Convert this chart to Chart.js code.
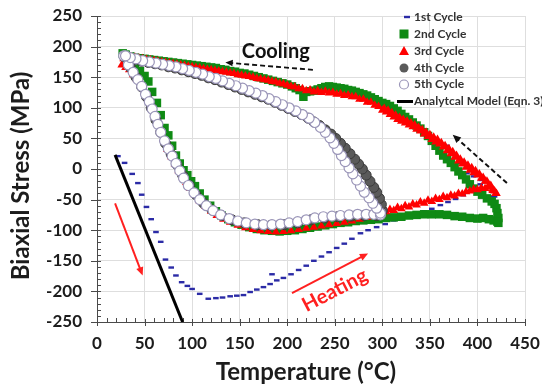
<!DOCTYPE html>
<html>
<head>
<meta charset="utf-8">
<script src="https://cdn.jsdelivr.net/npm/chart.js@4.4.1/dist/chart.umd.min.js"></script>
<style>
  html, body { margin: 0; padding: 0; background: #fff; }
</style>
</head>
<body>
<canvas id="chart" width="542" height="391"></canvas>
<script>
// ---- data: [temperature (°C), biaxial stress (MPa)] ----
const cycle1Heating = [[22,21],[29,10],[37,-8],[43,-23],[47,-42],[52,-62],[57,-82],[62,-103],[67,-119],[72,-148],
  [78,-161],[83,-174],[89,-185],[95,-191],[100,-196],[108,-204],[117,-212],[125,-211],[132,-210],[140,-208],
  [147,-207],[154,-206],[161,-201],[168,-197],[175,-193],[182,-188],[184,-172],[189,-182],[196,-178],[204,-172],
  [212,-165],[220,-158],[228,-150],[236,-143],[244,-136],[252,-129],[260,-122],[268,-114],[277,-105],[285,-100],
  [294,-95],[303,-90],[312,-84],[320,-80],[328,-76],[336,-73],[344,-69],[352,-65],[361,-59],[369,-54],
  [377,-49],[385,-43],[395,-34],[403,-25],[410,-30],[416,-45],[420,-67]];
const cycle1Cooling = [[418,-45],[412,-30],[404,-18],[396,-12],[389,-7],[380,10],[368,38],[356,48],[344,60],[330,76],
  [316,92],[300,100],[284,112],[268,118],[252,122],[236,127],[220,130],[204,136],[188,142],[172,147],
  [157,157],[140,156],[124,160],[108,164],[92,168],[76,172],[60,176],[44,180],[30,184]];

const cycle2Heating = [[30,186],[35,177],[40,168],[45,160],[50,152],[54,143],[58,126],[63,108],[67,88],[71,67],
  [75,55],[79,38],[83,22],[87,9],[91,-2],[95,-10],[99,-20],[103,-28],[108,-40],[113,-50],
  [119,-60],[125,-69],[131,-76],[138,-82],[145,-87],[152,-91],[160,-95],[168,-98],[176,-100],[184,-101],
  [192,-102],[200,-101],[208,-100],[216,-98],[224,-96],[232,-94],[240,-92],[248,-90],[256,-88],[264,-87],
  [272,-85],[280,-84],[288,-83],[296,-82],[304,-80],[312,-79],[320,-78],[328,-76],[336,-75],[344,-74],
  [352,-74],[360,-74],[368,-75],[376,-77],[384,-78],[392,-80],[400,-81],[406,-80],[412,-82],[417,-84],[421,-86]];
const cycle2Cooling = [[422,-88],[422,-80],[421,-72],[420,-64],[418,-57],[415,-53],[410,-48],[405,-42],[400,-37],[396,-32],
  [392,-25],[388,-17],[384,-10],[380,-4],[376,3],[372,10],[368,16],[364,22],[360,30],[356,38],
  [352,46],[348,54],[344,60],[340,66],[336,71],[332,76],[328,81],[324,85],[320,90],[316,95],
  [312,99],[308,103],[304,106],[300,108],[296,111],[292,114],[288,117],[284,120],[280,122],[276,124],
  [272,126],[268,128],[264,129],[260,131],[256,132],[252,133],[248,134],[244,135],[240,134],[236,132],
  [232,130],[228,128],[224,127],[220,126],[217,118],[213,129],[209,132],[205,135],[200,138],[195,140],
  [190,142],[185,144],[180,146],[175,148],[170,150],[165,152],[160,154],[155,156],[150,157],[145,159],
  [140,160],[135,162],[130,163],[125,165],[120,166],[115,167],[110,168],[105,169],[100,170],[95,171],
  [90,172],[85,173],[80,174],[75,175],[70,176],[65,177],[60,178],[55,179],[50,180],[45,181],
  [40,182],[35,184],[30,187],[27,189]];

const cycle3Heating = [[26,170],[30,166],[34,162],[38,154],[42,147],[46,139],[50,127],[54,115],[58,100],[62,84],
  [66,65],[70,49],[74,32],[78,20],[82,8],[86,-3],[90,-13],[94,-22],[98,-32],[103,-42],
  [108,-52],[114,-61],[120,-69],[126,-76],[133,-82],[140,-87],[148,-92],[156,-96],[164,-99],[172,-101],
  [180,-102],[188,-103],[196,-102],[204,-101],[212,-99],[220,-97],[228,-95],[236,-93],[244,-91],[252,-89],
  [260,-87],[268,-85],[276,-82],[284,-79],[292,-76],[300,-73],[304,-70],[308,-66],[312,-68],[316,-63],
  [320,-65],[324,-60],[328,-62],[332,-57],[336,-59],[340,-54],[344,-56],[348,-51],[352,-53],[356,-48],
  [360,-50],[364,-45],[368,-47],[372,-43],[376,-44],[380,-40],[384,-41],[388,-37],[392,-36],[396,-33],
  [400,-34],[404,-31],[408,-32],[412,-30],[416,-35],[419,-40]];
const cycle3Cooling = [[420,-40],[418,-36],[416,-33],[414,-27],[412,-26],[410,-20],[408,-20],[406,-14],[404,-15],[402,-8],
  [400,-10],[398,-3],[396,-6],[394,2],[392,-2],[390,6],[388,3],[386,11],[384,8],[382,16],
  [380,13],[378,22],[376,19],[374,28],[372,25],[370,33],[368,30],[366,38],[364,36],[362,43],
  [360,41],[358,48],[356,44],[354,52],[352,48],[350,56],[348,53],[346,60],[344,57],[342,64],
  [340,62],[338,68],[336,65],[334,72],[332,69],[330,75],[328,72],[326,78],[324,75],[322,81],
  [320,78],[318,84],[316,81],[314,88],[312,85],[310,92],[308,89],[306,96],[304,93],[302,99],
  [300,96],[296,102],[292,104],[288,109],[284,109],[280,114],[276,114],[272,118],[268,118],[264,121],
  [260,120],[256,123],[252,122],[248,125],[244,124],[240,127],[236,125],[232,128],[228,126],[224,129],
  [220,128],[216,131],[212,131],[208,134],[204,135],[200,137],[196,139],[192,140],[188,142],[184,143],
  [180,145],[176,146],[172,147],[168,148],[164,150],[160,151],[156,152],[152,153],[148,154],[144,156],
  [140,157],[136,158],[132,159],[128,160],[124,161],[120,162],[116,163],[112,164],[108,165],[104,166],
  [100,167],[96,168],[92,169],[88,170],[84,171],[80,172],[76,173],[72,174],[68,175],[64,176],
  [60,177],[56,178],[52,179],[48,180],[44,181],[40,182],[36,183],[32,183],[28,180]];

const cycle4Heating = [[29,183],[35,166],[41,150],[47,134],[52,118],[57,100],[62,80],[67,60],[72,42],[78,24],
  [84,7],[90,-10],[97,-27],[104,-42],[112,-56],[121,-67],[131,-76],[142,-83],[155,-88],[169,-91],
  [183,-92],[197,-91],[211,-88],[225,-83],[239,-80],[253,-78],[267,-77],[281,-76],[294,-76]];
const cycle4Cooling = [[300,-68],[299,-58],[297,-48],[294,-38],[291,-30],[287,-20],[283,-10],[279,0],[275,8],[271,16],
  [266,25],[261,34],[256,42],[251,50],[246,57],[240,64],[234,71],[228,77],[222,83],[215,89],
  [208,94],[201,99],[194,104],[187,109],[180,114],[173,118],[166,122],[159,126],[152,130],[145,134],
  [138,138],[131,142],[124,146],[117,149],[110,153],[103,156],[96,159],[89,162],[82,165],[75,167],
  [68,170],[61,172],[54,174],[47,176],[40,179],[34,181],[30,183]];

const cycle5Heating = [[28,185],[33,170],[38,158],[43,146],[47,135],[51,122],[55,110],[58,98],[61,86],[64,73],
  [67,60],[71,46],[75,33],[79,21],[83,9],[87,-3],[91,-15],[96,-27],[102,-39],[108,-50],
  [115,-60],[122,-68],[130,-75],[139,-81],[148,-85],[157,-88],[166,-90],[175,-91],[184,-91],[193,-90],
  [202,-88],[211,-86],[220,-83],[229,-80],[238,-78],[247,-77],[256,-76],[265,-75],[274,-74],[283,-74],
  [291,-74],[298,-75]];
const cycle5Cooling = [[298,-72],[294,-64],[290,-56],[286,-47],[281,-38],[277,-28],[273,-18],[269,-8],[265,2],[261,12],
  [257,22],[253,32],[249,42],[245,51],[240,60],[235,68],[229,76],[223,83],[216,89],[209,95],
  [202,100],[195,105],[188,110],[181,115],[174,120],[167,124],[160,128],[153,132],[146,136],[139,140],
  [132,144],[125,148],[118,151],[111,155],[104,158],[97,161],[90,164],[83,167],[76,169],[69,171],
  [62,173],[55,175],[48,177],[41,180],[35,182],[30,185]];

const modelLine = [[19,23],[90,-250]];

const seriesNames = ['1st Cycle', '2nd Cycle', '3rd Cycle', '4th Cycle', '5th Cycle', 'Analytcal Model (Eqn. 3)'];
const xTicksRange = [0, 450, 50];
const yTicksRange = [-250, 250, 50];

// ---- helpers ----
const FONT = 'Lato, "Open Sans", sans-serif';
const toXY = (pairs) => pairs.map(([x, y]) => ({ x, y }));

const COLORS = {
  c1: '#2b2ba6',
  c2: '#0f8a14',
  c3: '#ff0000',
  c4fill: '#5a5a5a',
  c4line: '#3c3c3c',
  c5line: '#9a95b8',
  grid: '#dedede',
  axis: '#4a4a4a',
  text: '#1c1c1c',
};

function drawArrow(ctx, x1, y1, x2, y2, color, width, dash, head) {
  const ang = Math.atan2(y2 - y1, x2 - x1);
  ctx.save();
  ctx.strokeStyle = color;
  ctx.fillStyle = color;
  ctx.lineWidth = width;
  ctx.setLineDash(dash);
  ctx.beginPath();
  ctx.moveTo(x1, y1);
  ctx.lineTo(x2 - Math.cos(ang) * head * 0.7, y2 - Math.sin(ang) * head * 0.7);
  ctx.stroke();
  ctx.setLineDash([]);
  ctx.beginPath();
  ctx.moveTo(x2, y2);
  ctx.lineTo(x2 - head * Math.cos(ang - 0.42), y2 - head * Math.sin(ang - 0.42));
  ctx.lineTo(x2 - head * Math.cos(ang + 0.42), y2 - head * Math.sin(ang + 0.42));
  ctx.closePath();
  ctx.fill();
  ctx.restore();
}

// minor / major tick marks on the two axes
const axisTicks = {
  id: 'axisTicks',
  beforeDatasetsDraw(chart) {
    const { ctx, chartArea: a, scales: { x, y } } = chart;
    ctx.save();
    ctx.strokeStyle = COLORS.axis;
    ctx.lineWidth = 1;
    ctx.beginPath();
    for (let v = xTicksRange[0]; v <= xTicksRange[1]; v += 10) {
      const px = Math.round(x.getPixelForValue(v)) + 0.5;
      const major = v % 50 === 0;
      ctx.moveTo(px, a.bottom + (major ? 4 : 0));
      ctx.lineTo(px, a.bottom - (major ? 3 : 4));
    }
    for (let v = yTicksRange[0]; v <= yTicksRange[1]; v += 10) {
      const py = Math.round(y.getPixelForValue(v)) + 0.5;
      const major = v % 50 === 0;
      ctx.moveTo(a.left - (major ? 6 : 0), py);
      ctx.lineTo(a.left + 4, py);
    }
    ctx.stroke();
    ctx.restore();
  },
};

// axis titles, in-plot annotations and the legend
const decorations = {
  id: 'decorations',
  afterDraw(chart) {
    const { ctx, scales: { x, y } } = chart;
    const X = (v) => x.getPixelForValue(v);
    const Y = (v) => y.getPixelForValue(v);
    ctx.save();

    // axis titles
    ctx.fillStyle = COLORS.text;
    ctx.font = `bold 24px ${FONT}`;
    ctx.textAlign = 'center';
    ctx.textBaseline = 'middle';
    ctx.fillText('Temperature (°C)', 306, 372);
    ctx.save();
    ctx.translate(21, 176);
    ctx.rotate(-Math.PI / 2);
    ctx.fillText('Biaxial Stress (MPa)', 0, 0);
    ctx.restore();

    // "Cooling" with dashed arrow
    ctx.font = `bold 20px ${FONT}`;
    ctx.fillStyle = '#111';
    ctx.fillText('Cooling', X(188), Y(192));
    drawArrow(ctx, X(227), Y(162), X(135), Y(174), '#111', 1.8, [5, 3], 8);

    // dashed arrow on the right
    drawArrow(ctx, X(431), Y(-23), X(374), Y(56), '#111', 2, [5, 3], 9);

    // red arrows and "Heating"
    drawArrow(ctx, X(19), Y(-56), X(48), Y(-174), '#ff2020', 2, [], 9);
    const hx1 = X(205), hy1 = Y(-203), hx2 = X(285), hy2 = Y(-138);
    drawArrow(ctx, hx1, hy1, hx2, hy2, '#ff2020', 2, [], 9);
    ctx.save();
    ctx.translate(X(250), Y(-198));
    ctx.rotate(Math.atan2(hy2 - hy1, hx2 - hx1));
    ctx.fillStyle = '#ff2020';
    ctx.font = `bold 20px ${FONT}`;
    ctx.fillText('Heating', 0, 0);
    ctx.restore();

    // legend
    const lx = 404, tx = 414;
    const rows = [17, 34, 51, 68, 84.5, 101.5];
    ctx.textAlign = 'left';
    ctx.font = `bold 12px ${FONT}`;
    seriesNames.forEach((name, i) => {
      ctx.fillStyle = '#333';
      ctx.fillText(name, tx, rows[i]);
    });
    ctx.strokeStyle = COLORS.c1; ctx.lineWidth = 2.4;
    ctx.beginPath(); ctx.moveTo(lx, rows[0]); ctx.lineTo(lx + 6, rows[0]); ctx.stroke();
    ctx.fillStyle = COLORS.c2; ctx.fillRect(lx - 4.5, rows[1] - 4.5, 9, 9);
    ctx.fillStyle = COLORS.c3;
    ctx.beginPath();
    ctx.moveTo(lx, rows[2] - 5); ctx.lineTo(lx + 5, rows[2] + 4); ctx.lineTo(lx - 5, rows[2] + 4);
    ctx.closePath(); ctx.fill();
    ctx.fillStyle = COLORS.c4fill;
    ctx.beginPath(); ctx.arc(lx, rows[3], 4.5, 0, Math.PI * 2); ctx.fill();
    ctx.fillStyle = '#fff'; ctx.strokeStyle = COLORS.c5line; ctx.lineWidth = 1.2;
    ctx.beginPath(); ctx.arc(lx, rows[4], 4.5, 0, Math.PI * 2); ctx.fill(); ctx.stroke();
    ctx.strokeStyle = '#000'; ctx.lineWidth = 3;
    ctx.beginPath(); ctx.moveTo(397, rows[5]); ctx.lineTo(413, rows[5]); ctx.stroke();

    ctx.restore();
  },
};

const pointBase = { showLine: false, pointHoverRadius: 0 };

const datasets = [
  {
    ...pointBase, label: seriesNames[0], order: 6,
    data: toXY(cycle1Heating.concat(cycle1Cooling)),
    pointStyle: 'line', pointRadius: 2.8, pointBorderWidth: 2.4,
    borderColor: COLORS.c1, backgroundColor: COLORS.c1,
  },
  {
    ...pointBase, label: seriesNames[1], order: 5,
    data: toXY(cycle2Heating.concat(cycle2Cooling)),
    pointStyle: 'rect', pointRadius: 6, pointBorderWidth: 0,
    borderColor: COLORS.c2, backgroundColor: COLORS.c2,
  },
  {
    ...pointBase, label: seriesNames[2], order: 4,
    data: toXY(cycle3Heating.concat(cycle3Cooling)),
    pointStyle: 'triangle', pointRadius: 5, pointBorderWidth: 0,
    borderColor: COLORS.c3, backgroundColor: COLORS.c3,
  },
  {
    ...pointBase, label: seriesNames[3], order: 3,
    data: toXY(cycle4Heating.concat(cycle4Cooling)),
    pointStyle: 'circle', pointRadius: 5, pointBorderWidth: 1,
    borderColor: COLORS.c4line, backgroundColor: COLORS.c4fill,
  },
  {
    ...pointBase, label: seriesNames[4], order: 2,
    data: toXY(cycle5Heating.concat(cycle5Cooling)),
    pointStyle: 'circle', pointRadius: 5, pointBorderWidth: 1.2,
    borderColor: COLORS.c5line, backgroundColor: '#ffffff',
  },
  {
    label: seriesNames[5], order: 1,
    data: toXY(modelLine),
    showLine: true, pointRadius: 0, borderWidth: 3,
    borderColor: '#000', backgroundColor: '#000',
  },
];

const tickFont = { family: FONT, size: 17, weight: 'bold' };

new Chart(document.getElementById('chart'), {
  type: 'scatter',
  data: { datasets },
  plugins: [axisTicks, decorations],
  options: {
    responsive: false,
    animation: false,
    events: [],
    layout: { padding: { top: 16, right: 17, left: 0, bottom: 0 } },
    plugins: { legend: { display: false }, tooltip: { enabled: false } },
    scales: {
      x: {
        type: 'linear',
        min: xTicksRange[0], max: xTicksRange[1],
        afterFit(scale) {
          scale.height = 69;
          scale.paddingLeft = 0; scale.paddingRight = 0;
        },
        ticks: { stepSize: xTicksRange[2], font: tickFont, color: COLORS.text, padding: 11, maxRotation: 0 },
        grid: { color: COLORS.grid, drawTicks: false },
        border: { color: COLORS.axis, width: 1 },
      },
      y: {
        type: 'linear',
        min: yTicksRange[0], max: yTicksRange[1],
        afterFit(scale) {
          scale.width = 97;
          scale.paddingTop = 0; scale.paddingBottom = 0;
        },
        ticks: { stepSize: yTicksRange[2], font: tickFont, color: COLORS.text, padding: 15 },
        grid: { color: COLORS.grid, drawTicks: false },
        border: { color: COLORS.axis, width: 1 },
      },
    },
  },
});
</script>
</body>
</html>
